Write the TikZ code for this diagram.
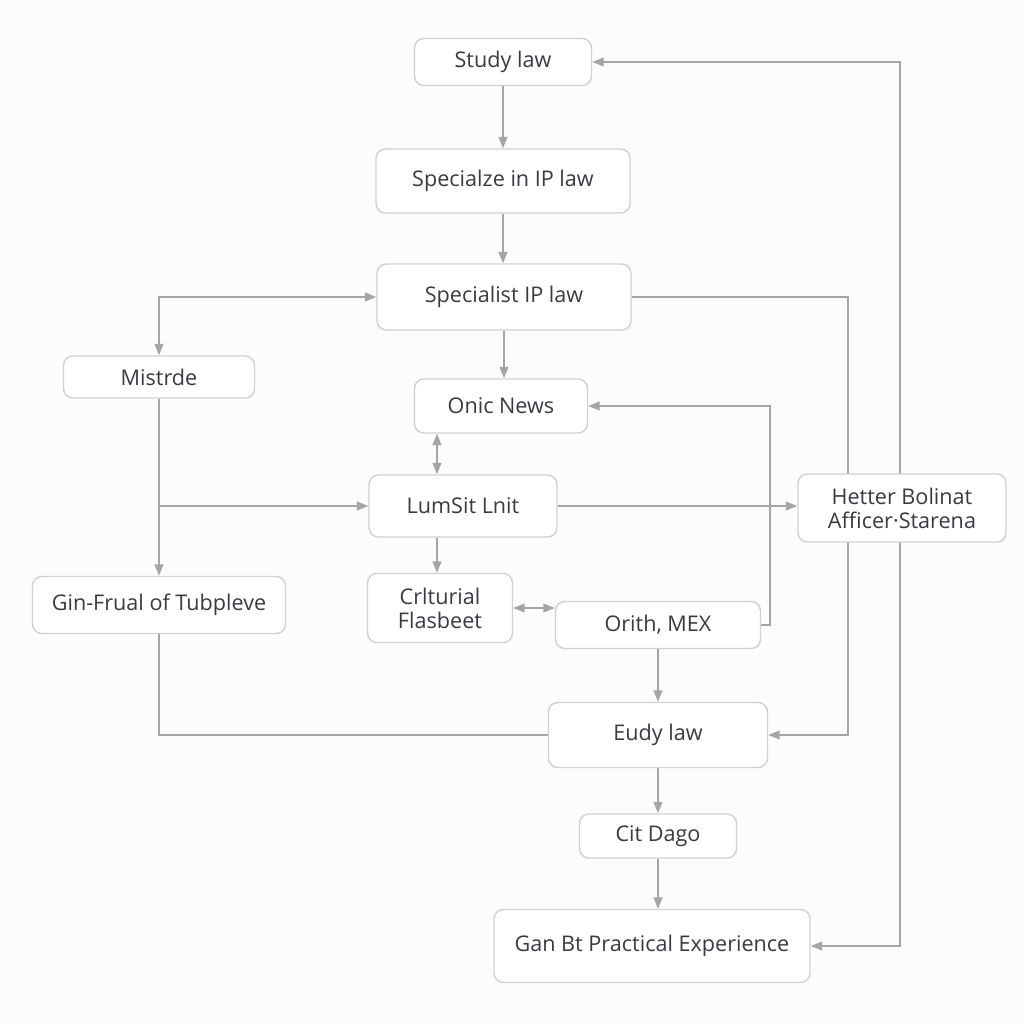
\documentclass[tikz,border=0pt]{standalone}
\usepackage{fontspec}
\setmainfont{Open Sans}
\usetikzlibrary{arrows.meta}
\definecolor{bgc}{HTML}{FCFCFC}
\definecolor{boxc}{HTML}{D2D2D6}
\definecolor{linec}{HTML}{A4A4AA}
\definecolor{txtc}{HTML}{3A3A44}
\pgfdeclarelayer{bg}
\pgfdeclarelayer{lines}
\pgfsetlayers{bg,lines,main}
\tikzset{
  box/.style={draw=boxc, line width=1.1pt, fill=white, rounded corners=7pt, text=txtc,
    font=\fontsize{16.2}{20}\selectfont, align=center, inner sep=0pt},
  conn/.style={draw=linec, line width=1.4pt},
  arr/.style={conn, -{Triangle[length=8.5pt,width=6.5pt]}},
  darr/.style={conn, {Triangle[length=8.5pt,width=6.5pt]}-{Triangle[length=8.5pt,width=6.5pt]}},
}
\newcommand\bx[6]{\node[box, minimum width=#4*0.75pt, minimum height=#5*0.75pt] (#1) at (#2,#3) {#6};}
\begin{document}
\begin{tikzpicture}[x=0.75pt,y=-0.75pt]
\begin{pgfonlayer}{bg}
\fill[bgc] (0,0) rectangle (1024,1024);
\end{pgfonlayer}
\useasboundingbox (0,0) rectangle (1024,1024);
\bx{st}{503}{62}{177}{47}{Study law}
\bx{sz}{503}{181}{254}{64}{Specialze in IP law}
\bx{spc}{504}{297}{254}{66}{Specialist IP law}
\bx{mis}{159}{377}{191}{42}{Mistrde}
\bx{on}{501}{406}{173}{54}{Onic News}
\bx{lum}{463}{506}{188}{62}{LumSit Lnit}
\bx{het}{902}{508}{208}{68}{Hetter Bolinat\\[-2pt]Afficer·Starena}
\bx{gin}{159}{605}{253}{57}{Gin-Frual of Tubpleve}
\bx{cr}{440}{608}{145}{69}{Crlturial\\[-2pt]Flasbeet}
\bx{or}{658}{625}{205}{47}{Orith, MEX}
\bx{eu}{658}{735}{219}{65}{Eudy law}
\bx{cit}{658}{836}{157}{44}{Cit Dago}
\bx{gan}{652}{946}{316}{73}{Gan Bt Practical Experience}
\coordinate (c437) at (437,0);
\coordinate (c770) at (770,0);
\coordinate (c848) at (848,0);
\coordinate (c900) at (900,0);
\begin{pgfonlayer}{lines}
\draw[arr] (st.south) -- (sz.north);
\draw[arr] (sz.south) -- (spc.north -| sz.south);
\draw[arr] (spc.south) -- (on.north -| spc.south);
\draw[darr] (mis.north) |- (spc.west);
\draw[darr] (on.south -| c437) -- (lum.north -| c437);
\draw[arr] (lum.south -| c437) -- (cr.north -| c437);
\draw[darr] (cr.east) -- (or.west |- cr.east);
\draw[arr] (or.east) -- (or.east -| c770) -- (on.east -| c770) -- (on.east);
\draw[arr] (spc.east) -- (spc.east -| c848) -- (eu.east -| c848) -- (eu.east);
\draw[darr] (st.east) -- (st.east -| c900) -- (gan.east -| c900) -- (gan.east);
\draw[arr] (mis.south) -- (gin.north);
\draw[arr] (mis.south |- lum.west) -- (lum.west);
\draw[arr] (lum.east) -- (het.west |- lum.east);
\draw[conn] (gin.south) |- (eu.west);
\draw[arr] (or.south) -- (eu.north);
\draw[arr] (eu.south) -- (cit.north);
\draw[arr] (cit.south) -- (gan.north -| cit.south);
\end{pgfonlayer}
\end{tikzpicture}
\end{document}
